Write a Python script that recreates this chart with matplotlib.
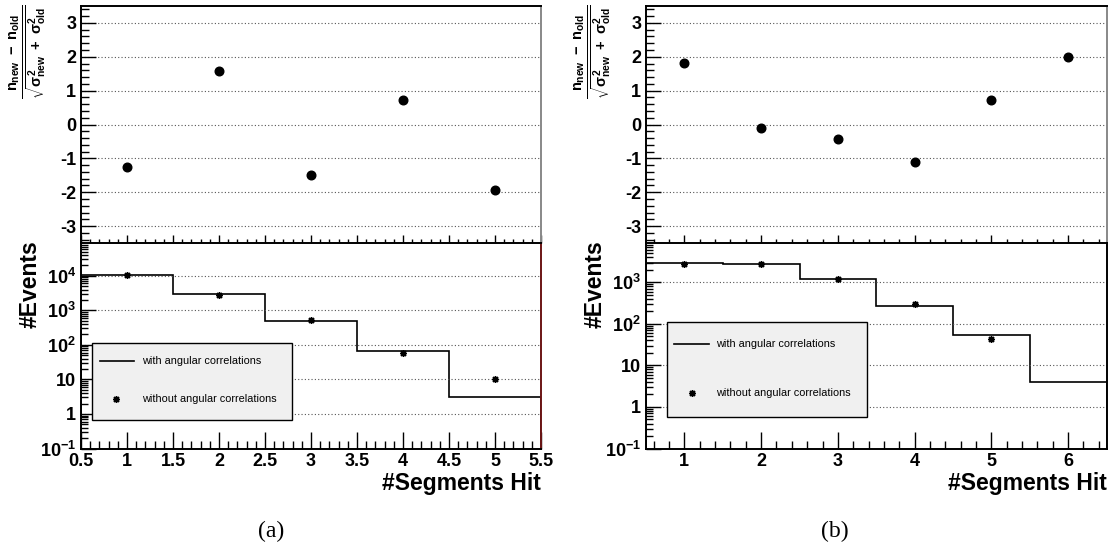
"""Pull distribution and hit multiplicity, with vs. without angular correlations."""

import matplotlib
matplotlib.use("Agg")
import matplotlib.pyplot as plt
from matplotlib.patches import Rectangle
from matplotlib.ticker import (MultipleLocator, FixedLocator, FixedFormatter,
                               FormatStrFormatter, LogLocator, NullFormatter)

plt.rcParams.update({
    "font.family": ["Liberation Sans", "DejaVu Sans"],
    "font.weight": "bold",
    "axes.unicode_minus": False,
    "mathtext.fontset": "custom",
    "mathtext.rm": "Liberation Sans:bold",
    "mathtext.it": "Liberation Sans:bold",
    "mathtext.bf": "Liberation Sans:bold",
    "mathtext.sf": "Liberation Sans:bold",
})

# %% data -- panel (a)
hits_a = [1, 2, 3, 4, 5]
pull_a = [-1.26, 1.58, -1.49, 0.72, -1.93]
edges_a = [0.5, 1.5, 2.5, 3.5, 4.5, 5.5]
with_corr_a = [10500, 2900, 480, 65, 3.0]
without_corr_a = [10800, 2760, 525, 57, 10]

# %% data -- panel (b)
hits_b = [1, 2, 3, 4, 5, 6]
pull_b = [1.82, -0.11, -0.44, -1.10, 0.72, 2.0]
edges_b = [0.5, 1.5, 2.5, 3.5, 4.5, 5.5, 6.5]
with_corr_b = [2860, 2820, 1180, 270, 53, 4.1]
hits_b_without = [1, 2, 3, 4, 5]
without_corr_b = [2750, 2750, 1200, 300, 44]

log_ticks = [0.1, 1, 10, 100, 1000, 10000]
log_labels = [r"$10^{-1}$", "1", "10", r"$10^{2}$", r"$10^{3}$", r"$10^{4}$"]

W, H = 1113, 550
fig = plt.figure(figsize=(W / 100, H / 100), dpi=100)


def px_axes(x0, x1, y0, y1):
    # pixel box (top-left origin) -> figure axes
    return fig.add_axes([x0 / W, 1 - y1 / H, (x1 - x0) / W, (y1 - y0) / H])


def style(ax):
    ax.tick_params(which="both", direction="in", top=False, right=False,
                   labelsize=13, width=1.0)
    ax.grid(True, which="major", axis="y", linestyle=(0, (1, 2)),
            color="#555555", linewidth=0.8)
    for s in ax.spines.values():
        s.set_linewidth(1.4)


def draw_panel(xl, xr, hits, pull, edges, with_corr, hits_wo, without_corr,
               xmaj, xmin, ymax, legend_box, legend_pos, tag, tag_x, red_edge):
    top = px_axes(xl, xr, 6, 243)
    bot = px_axes(xl, xr, 243, 448.5)

    # upper: pull per hit multiplicity
    top.plot(hits, pull, "o", color="black", ms=6.2)
    top.set_xlim(edges[0], edges[-1])
    top.set_ylim(-3.5, 3.5)
    top.yaxis.set_major_locator(MultipleLocator(1))
    top.yaxis.set_minor_locator(MultipleLocator(0.2))
    top.xaxis.set_major_locator(MultipleLocator(xmaj))
    top.xaxis.set_minor_locator(MultipleLocator(xmin))
    style(top)
    top.tick_params(axis="x", labelbottom=False)
    top.tick_params(axis="x", which="major", length=6)
    top.tick_params(axis="x", which="minor", length=3)
    top.tick_params(axis="y", which="major", length=11)
    top.tick_params(axis="y", which="minor", length=6)
    top.spines["right"].set_color("#888888")
    top.spines["bottom"].set_visible(False)

    # lower: event counts
    bot.stairs(with_corr, edges, color="black", linewidth=1.2)
    bot.plot(hits_wo, without_corr, linestyle="none", marker=(8, 2, 0),
             color="black", ms=5, mew=1.0)
    bot.set_yscale("log")
    bot.set_xlim(edges[0], edges[-1])
    bot.set_ylim(0.1, ymax)
    bot.yaxis.set_major_locator(FixedLocator(log_ticks))
    bot.yaxis.set_major_formatter(FixedFormatter(log_labels))
    bot.yaxis.set_minor_locator(LogLocator(base=10, subs=range(2, 10), numticks=20))
    bot.yaxis.set_minor_formatter(NullFormatter())
    bot.xaxis.set_major_locator(MultipleLocator(xmaj))
    bot.xaxis.set_minor_locator(MultipleLocator(xmin))
    bot.xaxis.set_major_formatter(FormatStrFormatter("%g"))
    style(bot)
    bot.tick_params(axis="x", which="major", length=12, pad=3)
    bot.tick_params(axis="x", which="minor", length=6)
    bot.tick_params(axis="y", which="major", length=11)
    bot.tick_params(axis="y", which="minor", length=5)
    if red_edge:
        bot.spines["right"].set_color("#6b1515")
    bot.set_xlabel("#Segments Hit", fontsize=16.5, fontweight="bold", loc="right", labelpad=2)

    # legend box
    bx0, by0, bx1, by1 = legend_box
    bot.add_patch(Rectangle((bx0, by0), bx1 - bx0, by1 - by0, transform=bot.transAxes,
                            facecolor="#f0f0f0", edgecolor="black", linewidth=1.0, zorder=3))
    lx0, lx1, mx, tx, y1, y2 = legend_pos
    bot.plot([lx0, lx1], [y1, y1], color="black", lw=1.2, transform=bot.transAxes, zorder=4)
    bot.text(tx, y1, "with angular correlations", transform=bot.transAxes, fontsize=7.8,
             fontweight="normal", va="center", zorder=4)
    bot.plot([mx], [y2], linestyle="none", marker=(8, 2, 0), color="black", ms=5, mew=1.0,
             transform=bot.transAxes, zorder=4)
    bot.text(tx, y2, "without angular correlations", transform=bot.transAxes, fontsize=7.8,
             fontweight="normal", va="center", zorder=4)

    # axis titles
    fig.text((xl - 53) / W, 1 - 52 / H,
             r"$\frac{n_{new}\ -\ n_{old}}{\sqrt{\sigma^{2}_{new}\ +\ \sigma^{2}_{old}}}$",
             rotation=90, ha="center", va="center", fontsize=15)
    fig.text((xl - 51) / W, 1 - 284 / H, "#Events", rotation=90, ha="center",
             va="center", fontsize=16.5, fontweight="bold")
    fig.text(tag_x / W, 1 - 531 / H, tag, ha="center", va="center",
             fontsize=17, family="Liberation Serif", fontweight="normal")


draw_panel(81, 541, hits_a, pull_a, edges_a, with_corr_a, hits_a, without_corr_a,
           0.5, 0.1, 10 ** 4.95,
           (0.024, 0.141, 0.459, 0.512),
           (0.041, 0.115, 0.075, 0.133, 0.424, 0.239),
           "(a)", 271, True)

draw_panel(646, 1106.5, hits_b, pull_b, edges_b, with_corr_b, hits_b_without, without_corr_b,
           1, 0.2, 10 ** 3.95,
           (0.0456, 0.155, 0.48, 0.616),
           (0.061, 0.137, 0.1, 0.153, 0.507, 0.27),
           "(b)", 835, False)

fig.savefig("out.png", dpi=100)
